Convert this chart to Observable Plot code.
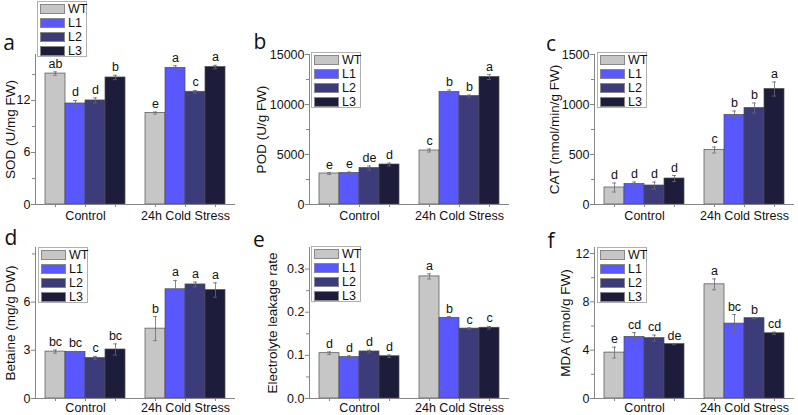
<!DOCTYPE html>
<html><head><meta charset="utf-8">
<script src="https://cdn.jsdelivr.net/npm/d3@7"></script>
<script src="https://cdn.jsdelivr.net/npm/@observablehq/plot@0.6"></script>
<style>
body{margin:0;background:#fff;}
#wrap{position:relative;width:798px;height:415px;overflow:hidden;font-family:"Liberation Sans",Arial,sans-serif;background:#fff;}
.panel{position:absolute;}
.letter{position:absolute;font-family:"Open Sans","Liberation Sans",sans-serif;font-size:21px;line-height:1;transform:translate(-50%,-50%);color:#111;}
.legend{position:absolute;width:50px;height:56px;border:1px solid #b0b0b0;background:#fff;box-sizing:border-box;}
.legend .row{position:absolute;left:2px;height:10px;}
.legend .sw{position:absolute;left:0;top:0;width:25px;height:10px;box-sizing:border-box;border:1px solid #888;}
.legend .lb{position:absolute;left:28px;top:-2px;font-size:12.5px;line-height:14px;color:#111;}
</style></head>
<body><div id="wrap"></div>
<script>
const groups = ["Control", "24h Cold Stress"];
const lines = ["WT", "L1", "L2", "L3"];
const colors = ["#c6c6c6", "#5858fe", "#3c3c7a", "#1d1d3b"];

const sodMean = [15.1, 11.65, 12.0, 14.65, 10.55, 15.75, 13.0, 15.85];
const sodErr  = [0.2, 0.35, 0.3, 0.25, 0.12, 0.25, 0.15, 0.2];
const sodSig  = ["ab", "d", "d", "b", "e", "a", "c", "a"];

const podMean = [3100, 3150, 3650, 4000, 5400, 11250, 10850, 12750];
const podErr  = [100, 100, 200, 150, 150, 200, 100, 250];
const podSig  = ["e", "e", "de", "d", "c", "b", "b", "a"];

const catMean = [170, 205, 190, 260, 545, 895, 965, 1155];
const catErr  = [45, 20, 35, 30, 30, 40, 50, 70];
const catSig  = ["d", "d", "d", "d", "c", "b", "b", "a"];

const betMean = [2.92, 2.9, 2.52, 3.05, 4.35, 6.8, 7.1, 6.75];
const betErr  = [0.1, 0.03, 0.1, 0.35, 0.75, 0.55, 0.15, 0.45];
const betSig  = ["bc", "bc", "c", "bc", "b", "a", "a", "a"];

const elMean = [0.105, 0.096, 0.109, 0.098, 0.283, 0.187, 0.162, 0.164];
const elErr  = [0.003, 0.003, 0.003, 0.003, 0.006, 0.003, 0.002, 0.003];
const elSig  = ["d", "d", "d", "d", "a", "b", "c", "c"];

const mdaMean = [3.8, 5.1, 5.0, 4.5, 9.45, 6.2, 6.65, 5.4];
const mdaErr  = [0.45, 0.35, 0.25, 0.05, 0.45, 0.75, 0.05, 0.1];
const mdaSig  = ["e", "cd", "cd", "de", "a", "bc", "b", "cd"];

const panels = [
  {letter:"a", title:"SOD (U/mg FW)", mean:sodMean, err:sodErr, sig:sodSig, domain:[0,17.3], major:[0,6,12], minor:[3,9,15], fmt:d=>String(d),
   left:0, top:0, w:266, h:228, mL:35, mR:31, mT:54, mB:24, tp:4, tcx:12, lx:9, ly:42, legX:37, legY:1},
  {letter:"b", title:"POD (U/g FW)", mean:podMean, err:podErr, sig:podSig, domain:[0,15000], major:[0,5000,10000,15000], minor:[2500,7500,12500], fmt:d=>String(d),
   left:266, top:0, w:266, h:228, mL:43, mR:23, mT:54, mB:24, tp:4, tcx:263, lx:260, ly:41, legX:311, legY:52},
  {letter:"c", title:"CAT (nmol/min/g FW)", mean:catMean, err:catErr, sig:catSig, domain:[0,1500], major:[0,500,1000,1500], minor:[250,750,1250], fmt:d=>String(d),
   left:532, top:0, w:266, h:228, mL:62, mR:4, mT:54, mB:24, tp:4, tcx:556, lx:551, ly:43, legX:597, legY:52},
  {letter:"d", title:"Betaine (mg/g DW)", mean:betMean, err:betErr, sig:betSig, domain:[0,9.4], major:[0,3,6], minor:[9], fmt:d=>String(d),
   left:0, top:200, w:266, h:215, mL:35, mR:31, mT:47, mB:17, tp:2, tcx:12, lx:11, ly:237, legX:38, legY:247},
  {letter:"e", title:"Electrolyte leakage rate", mean:elMean, err:elErr, sig:elSig, domain:[0,0.35], major:[0,0.1,0.2,0.3], minor:[0.05,0.15,0.25], fmt:d=>d.toFixed(1),
   left:266, top:200, w:266, h:215, mL:43, mR:23, mT:47, mB:17, tp:2, tcx:274, lx:259, ly:239, legX:311, legY:246},
  {letter:"f", title:"MDA (nmol/g FW)", mean:mdaMean, err:mdaErr, sig:mdaSig, domain:[0,12.5], major:[0,4,8,12], minor:[2,6,10], fmt:d=>String(d),
   left:532, top:200, w:266, h:215, mL:62, mR:4, mT:47, mB:17, tp:2, tcx:567, lx:551, ly:240, legX:597, legY:247}
];

const axisColor = "#858585";
const wrap = document.getElementById("wrap");

for (const p of panels) {
  const data = [];
  groups.forEach((g, gi) => lines.forEach((l, li) => {
    const i = gi * 4 + li;
    data.push({group: g, line: l, mean: p.mean[i], err: p.err[i], sig: p.sig[i]});
  }));
  const labelOffset = (p.left + p.mL) - (p.tcx - 7);
  const svg = Plot.plot({
    width: p.w, height: p.h,
    marginLeft: p.mL, marginRight: p.mR, marginTop: p.mT, marginBottom: p.mB,
    style: {fontFamily: "'Liberation Sans', Arial, sans-serif", fontSize: "12px", background: "transparent", overflow: "visible"},
    fx: {domain: groups, padding: 0, label: null},
    x: {domain: lines, paddingInner: 0, paddingOuter: 0.5, label: null},
    y: {domain: p.domain, label: null},
    color: {domain: lines, range: colors},
    marks: [
      Plot.barY(data, {fx: "group", x: "line", y: "mean", fill: "line", stroke: "#4d4d4d", strokeWidth: 0.7}),
      Plot.ruleX(data, {fx: "group", x: "line", y1: d => d.mean - d.err, y2: d => d.mean + d.err, stroke: "#6a6a6a", strokeWidth: 0.8}),
      Plot.tickY(data, {fx: "group", x: "line", y: d => d.mean + d.err, inset: 8, stroke: "#6a6a6a", strokeWidth: 0.8}),
      Plot.tickY(data, {fx: "group", x: "line", y: d => d.mean - d.err, inset: 8, stroke: "#6a6a6a", strokeWidth: 0.8}),
      Plot.text(data, {fx: "group", x: "line", y: d => d.mean + d.err, text: "sig", dy: -8, fontSize: 12.5, fill: "#111"}),
      Plot.ruleY([0], {stroke: axisColor}),
      Plot.frame({anchor: "left", facetAnchor: "left", stroke: axisColor}),
      Plot.axisY({ticks: p.major, tickSize: 4, tickPadding: 1, tickFormat: p.fmt, label: null, stroke: axisColor, fill: "#111", fontSize: 12.5}),
      Plot.axisY({ticks: [], label: p.title, labelAnchor: "center", labelArrow: "none", labelOffset: labelOffset, fill: "#111", fontSize: 13.5}),
      Plot.axisY({ticks: p.minor, tickSize: 3, tickFormat: () => "", label: null, stroke: axisColor}),
      Plot.axisFx({anchor: "bottom", tickSize: 3, tickPadding: p.tp, label: null, stroke: axisColor, fill: "#111", fontSize: 12.5}),
      Plot.axisX({ticks: ["WT", "L3"], tickSize: 3, tickFormat: () => "", label: null, stroke: axisColor})
    ]
  });
  svg.classList.add("panel");
  svg.style.left = p.left + "px";
  svg.style.top = p.top + "px";
  wrap.appendChild(svg);

  const lg = document.createElement("div");
  lg.className = "legend";
  lg.style.left = p.legX + "px";
  lg.style.top = p.legY + "px";
  lines.forEach((l, i) => {
    const row = document.createElement("div");
    row.className = "row";
    row.style.top = (2 + i * 14) + "px";
    const sw = document.createElement("div");
    sw.className = "sw";
    sw.style.background = colors[i];
    const lb = document.createElement("div");
    lb.className = "lb";
    lb.textContent = l;
    row.appendChild(sw); row.appendChild(lb);
    lg.appendChild(row);
  });
  wrap.appendChild(lg);

  const lt = document.createElement("div");
  lt.className = "letter";
  lt.textContent = p.letter;
  lt.style.left = p.lx + "px";
  lt.style.top = p.ly + "px";
  wrap.appendChild(lt);
}
</script>
</body></html>
